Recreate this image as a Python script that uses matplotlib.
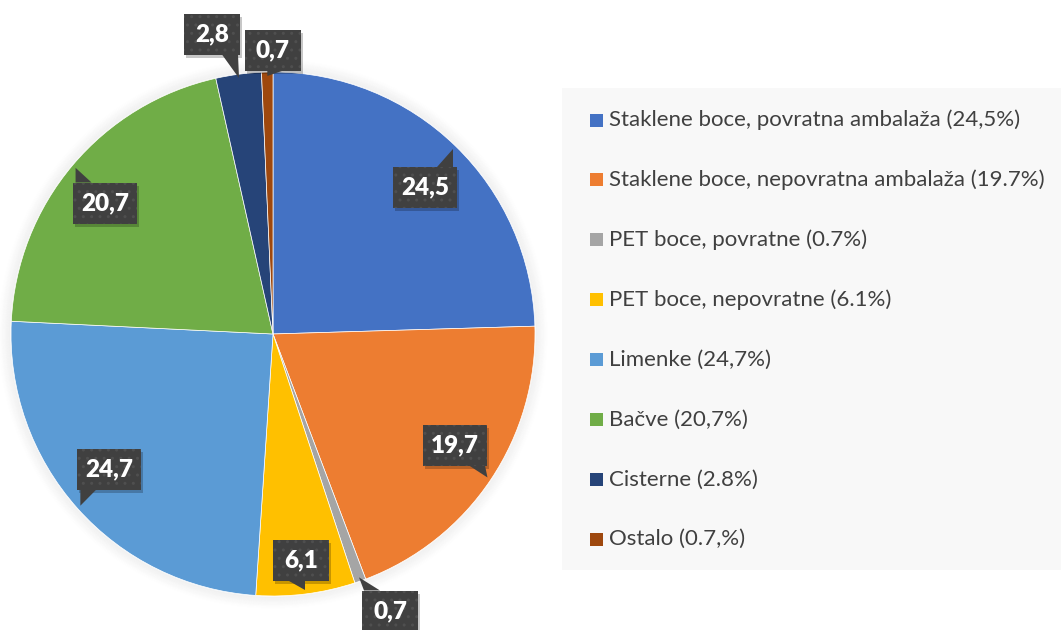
import matplotlib
matplotlib.use("Agg")
import matplotlib.pyplot as plt
from matplotlib.patches import Rectangle, Polygon, Circle
import numpy as np

# Data
shares = [24.5, 19.7, 0.7, 6.1, 24.7, 20.7, 2.8, 0.7]
legend_labels = [
    "Staklene boce, povratna ambalaža (24,5%)",
    "Staklene boce, nepovratna ambalaža (19.7%)",
    "PET boce, povratne (0.7%)",
    "PET boce, nepovratne (6.1%)",
    "Limenke (24,7%)",
    "Bačve (20,7%)",
    "Cisterne (2.8%)",
    "Ostalo (0.7,%)",
]
colors = ["#4472C4", "#ED7D31", "#A5A5A5", "#FFC000",
          "#5B9BD5", "#70AD47", "#264478", "#9E480E"]

# label box centres in pixel coords (layout only)
box_centers = [(425, 187), (455, 445), (390, 611), (301, 560),
               (109, 469), (105, 203), (212, 34), (273, 50)]

W, H = 1061, 630
fig = plt.figure(figsize=(W / 100, H / 100), dpi=100)
ax = fig.add_axes([0, 0, 1, 1])

def py(y):
    return H - y

cx, cy, R = 273, py(334), 262

# soft halo around the pie
for k in range(12):
    ax.add_patch(Circle((cx, cy), R + 1 + k, facecolor="none",
                        edgecolor="#000000", lw=1.2, alpha=0.035 * (1 - k / 12)))

wedges, _ = ax.pie(shares, colors=colors, startangle=90, counterclock=False,
                   center=(cx, cy), radius=R,
                   wedgeprops=dict(linewidth=0.5, edgecolor="white"))

ax.set_xlim(0, W)
ax.set_ylim(0, H)
ax.set_aspect("equal")
ax.axis("off")

# data callouts
for w, v, (bx, by) in zip(wedges, shares, box_centers):
    mid = np.deg2rad((w.theta1 + w.theta2) / 2)
    tx, ty = cx + 0.985 * R * np.cos(mid), cy + 0.985 * R * np.sin(mid)
    txt = f"{v:.1f}".replace(".", ",")
    hw = 32 if len(txt) == 4 else 28
    hh = 20.5
    byd = py(by)
    left, right, bot, top = bx - hw, bx + hw, byd - hh, byd + hh
    # pointer base on top/bottom edge
    edge_y = top if ty > byd else bot
    px = min(max(tx, left + 2), right - 2)
    if tx >= bx:
        base = [(px - 16, edge_y), (px, edge_y)]
    else:
        base = [(px, edge_y), (px + 16, edge_y)]
    # shadow
    ax.add_patch(Rectangle((left + 2, bot - 3), 2 * hw, 2 * hh,
                           facecolor="black", alpha=0.22, lw=0, zorder=4))
    ax.add_patch(Polygon(base + [(tx, ty)], closed=True, facecolor="#404040",
                         lw=0, zorder=5))
    ax.add_patch(Rectangle((left, bot), 2 * hw, 2 * hh, facecolor="#404040",
                           edgecolor="#4f4f4f", hatch="..", lw=0, zorder=5))
    ax.text(bx, byd, txt, color="white", fontsize=17.5, fontweight="heavy",
            family="Lato", ha="center", va="center", zorder=6)

# legend panel
ax.add_patch(Rectangle((562, py(570)), W - 562, 570 - 88,
                       facecolor="#f8f8f8", lw=0, zorder=1))
for i, (lab, col) in enumerate(zip(legend_labels, colors)):
    yy = py(120 + i * 59.9)
    ax.add_patch(Rectangle((590, yy - 6.5), 13, 13, facecolor=col, lw=0, zorder=2))
    ax.text(609, yy, lab, fontsize=16, family="Lato", color="#404040",
            ha="left", va="center", zorder=2)

fig.savefig("out.png", dpi=100)
